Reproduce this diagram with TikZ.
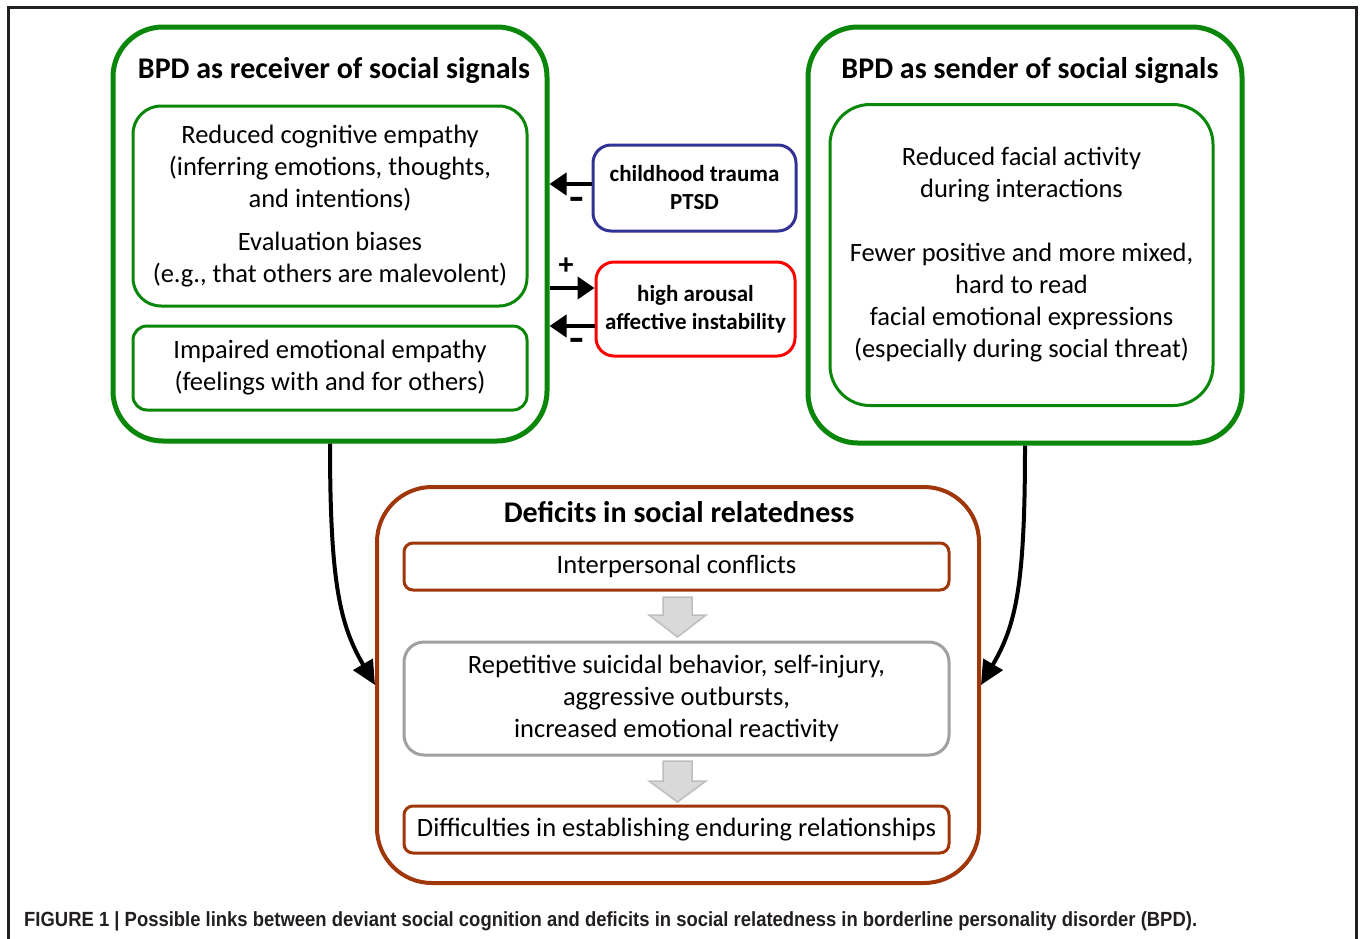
\documentclass[tikz,border=0pt]{standalone}
\usepackage{fontspec}
\usepackage{graphicx}
\setmainfont{Carlito}
\newfontfamily\capfont[FakeStretch=0.9]{Liberation Sans}
\usetikzlibrary{arrows.meta,calc}
\definecolor{grn}{RGB}{10,135,10}
\definecolor{brn}{RGB}{160,55,10}
\definecolor{blu}{RGB}{50,50,150}
\definecolor{gry}{RGB}{160,160,160}
\definecolor{lgry}{RGB}{217,217,217}
\definecolor{mgry}{RGB}{190,190,190}
\definecolor{frm}{RGB}{35,31,32}
\tikzset{
  bigbox/.style={draw=grn, line width=5pt, rounded corners=50pt, inner sep=0pt},
  inbox/.style={draw=grn, line width=3pt, rounded corners=28pt, inner sep=0pt, align=center,
     font=\fontsize{26.5}{32}\selectfont},
  sidebox/.style={line width=3pt, rounded corners=18pt, inner sep=0pt, align=center,
     font=\bfseries\fontsize{23}{28}\selectfont},
  brnbox/.style={draw=brn, line width=3pt, rounded corners=9pt, inner sep=0pt, align=center,
     font=\fontsize{26.5}{32}\selectfont},
  ttl/.style={font=\bfseries\fontsize{30}{32}\selectfont, inner sep=0pt},
  sgn/.style={font=\bfseries\fontsize{30}{30}\selectfont, inner sep=0pt},
  arr/.style={line width=4pt, -{Triangle[length=17pt,width=22pt]}},
  carr/.style={line width=4pt, -{Triangle[length=24pt,width=22pt]}},
  blk/.style={draw=mgry, fill=lgry, line width=1.5pt},
}
\begin{document}
\begin{tikzpicture}[x=1pt,y=-1pt]
\useasboundingbox (0,0) rectangle (1362,938);
\fill[white] (0,0) rectangle (1362,938);
% frame
\draw[frm, line width=3pt] (8,940) -- (8,7) -- (1356,7) -- (1356,940);

% receiver
\node[bigbox, minimum width=434pt, minimum height=414pt] (recv) at (330,234) {};
\node[ttl] (recvt) at (334,71) {BPD as receiver of social signals};
\node[inbox, minimum width=394pt, minimum height=200pt] (cog) at (330,206)
  {Reduced cognitive empathy\\(inferring emotions, thoughts,\\and intentions)\\[11pt]Evaluation biases\\(e.g., that others are malevolent)};
\node[inbox, rounded corners=14pt, minimum width=394pt, minimum height=84pt] (emo) at (330,368)
  {Impaired emotional empathy\\(feelings with and for others)};

% sender
\node[bigbox, minimum width=434pt, minimum height=416pt] (send) at (1025,235) {};
\node[ttl] (sendt) at (1030,71) {BPD as sender of social signals};
\node[inbox, rounded corners=40pt, minimum width=383pt, minimum height=301pt] (face) at (1021.5,255)
  {Reduced facial activity\\during interactions\\[32pt]Fewer positive and more mixed,\\hard to read\\facial emotional expressions\\(especially during social threat)};

% side boxes
\node[sidebox, draw=blu, minimum width=203pt, minimum height=86pt] (trauma) at (694.5,188)
  {childhood trauma\\PTSD};
\node[sidebox, draw=red, minimum width=199pt, minimum height=94pt] (arousal) at (695.5,309)
  {high arousal\\affective instability};

\draw[arr] ([yshift=4pt]trauma.west) -- ([yshift=4pt]trauma.west -| recv.east);
\node[sgn] (m1) at (577,204) {\scalebox{1.6}[1.3]{-}};
\draw[arr] ([yshift=21pt]arousal.west -| recv.east) -- ([yshift=21pt]arousal.west);
\node[sgn] (p1) at (566,266) {+};
\draw[arr] ([yshift=-17pt]arousal.west) -- ([yshift=-17pt]arousal.west -| recv.east);
\node[sgn] (m2) at (577,345) {\scalebox{1.6}[1.3]{-}};

% deficits
\node[draw=brn, line width=4pt, rounded corners=55pt, minimum width=602pt, minimum height=396pt, inner sep=0pt] (defi) at (678,685) {};
\node[ttl] (defit) at (679,512) {Deficits in social relatedness};
\node[brnbox, minimum width=545pt, minimum height=47pt] (conf) at (676.5,566.5) {Interpersonal conflicts};
\node[brnbox, draw=gry, rounded corners=20pt, minimum width=545pt, minimum height=113pt] (rep) at (676.5,698.5)
  {Repetitive suicidal behavior, self-injury,\\aggressive outbursts,\\increased emotional reactivity};
\node[brnbox, minimum width=545pt, minimum height=47pt] (diff) at (676.5,829.5) {Difficulties in establishing enduring relationships};

\begin{scope}[shift={(677.5,0)}]
\draw[blk] (-14.5,597) -- (14.5,597) -- (14.5,615) -- (28.5,615) -- (0,637) -- (-28.5,615) -- (-14.5,615) -- cycle;
\draw[blk] (-14.5,761) -- (14.5,761) -- (14.5,781) -- (28.5,781) -- (0,802) -- (-28.5,781) -- (-14.5,781) -- cycle;
\end{scope}

% curved arrows
\draw[carr] (recv.south) .. controls ([yshift=-140pt]recv.south) and ($(defi.west)+(-35,-60)$) .. (defi.west);
\draw[carr] (send.south) .. controls ([yshift=-140pt]send.south) and ($(defi.east)+(35,-60)$) .. (defi.east);

% caption
\node[anchor=west, inner sep=0pt, font=\capfont\bfseries\fontsize{20.5}{22}\selectfont, text=frm] (cap) at (24,921)
  {FIGURE 1 | Possible links between deviant social cognition and deficits in social relatedness in borderline personality disorder (BPD).};
\end{tikzpicture}
\end{document}
